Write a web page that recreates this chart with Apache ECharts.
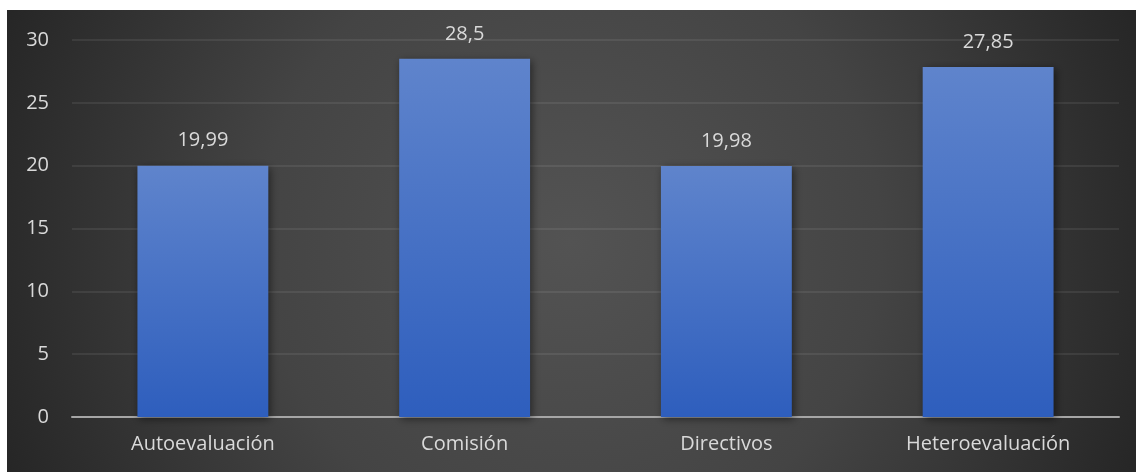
<!doctype html>
<html lang="es">
<head>
    <meta charset="UTF-8">
    <script src="https://cdn.jsdelivr.net/npm/echarts@6/dist/echarts.min.js"></script>
    <title>Evaluación</title>
    <style>
        body { margin: 0; background: #ffffff; }
        #main { position: absolute; left: 7px; top: 10px; width: 1129px; height: 462px; }
    </style>
</head>
<body>
<div id="main"></div>
<script>
    var categories = ['Autoevaluación', 'Comisión', 'Directivos', 'Heteroevaluación'];
    var values = [19.99, 28.5, 19.98, 27.85];

    var myChart = echarts.init(document.getElementById('main'));
    var font = '"Open Sans", "Noto Sans", sans-serif';

    var option = {
        // fondo radial: claro al centro, oscuro en los bordes
        backgroundColor: {
            type: 'radial', x: 564, y: 231, r: 620, global: true,
            colorStops: [
                {offset: 0, color: '#535353'},
                {offset: 0.5, color: '#444444'},
                {offset: 1, color: '#252525'}
            ]
        },
        grid: {left: 65, right: 17, top: 30, bottom: 55},
        xAxis: {
            type: 'category',
            data: categories,
            axisTick: {show: false},
            axisLine: {lineStyle: {color: '#a6a6a6', width: 2}},
            axisLabel: {color: '#d9d9d9', fontSize: 20, fontFamily: font, margin: 17}
        },
        yAxis: {
            type: 'value',
            min: 0, max: 30, interval: 5,
            axisLine: {show: false},
            axisTick: {show: false},
            axisLabel: {color: '#d9d9d9', fontSize: 20, fontFamily: font, margin: 23},
            splitLine: {lineStyle: {color: 'rgba(255,255,255,0.1)', width: 1.5}}
        },
        series: [{
            type: 'bar',
            data: values,
            barWidth: '50%',
            itemStyle: {
                color: {
                    type: 'linear', x: 0, y: 0, x2: 0, y2: 1,
                    colorStops: [
                        {offset: 0, color: '#5f84cc'},
                        {offset: 1, color: '#2e5ebd'}
                    ]
                },
                shadowColor: 'rgba(0,0,0,0.5)',
                shadowBlur: 8,
                shadowOffsetX: 2,
                shadowOffsetY: 2
            },
            label: {
                show: true,
                position: 'top',
                distance: 15,
                color: '#d9d9d9',
                fontSize: 20,
                fontFamily: font,
                formatter: function (p) {
                    return String(p.value).replace('.', ',');
                }
            }
        }]
    };

    myChart.setOption(option);
</script>
</body>
</html>
